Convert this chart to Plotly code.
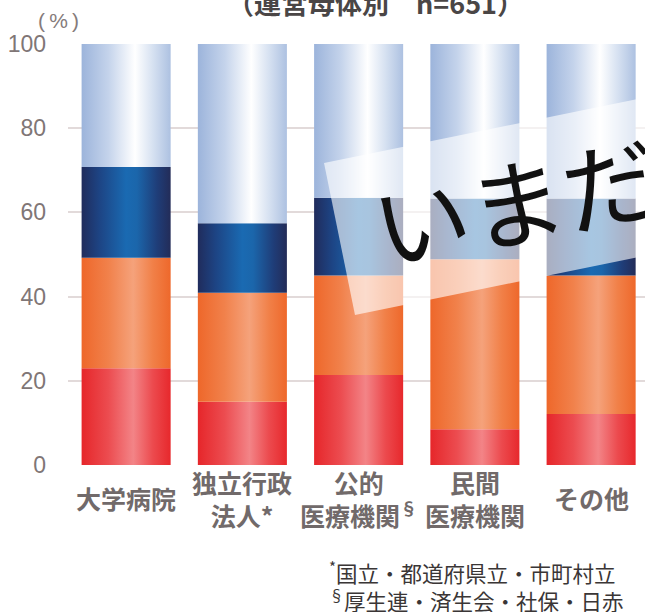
import plotly.graph_objects as go

# ---------------- data ----------------
categories = ["大学病院", "独立行政<br>法人*", "公的<br>医療機関<sup>§</sup>", "民間<br>医療機関", "その他"]
seg_red = [23.0, 15.0, 21.4, 8.5, 12.1]
seg_orange = [26.2, 25.9, 23.6, 40.4, 32.9]
seg_navy = [21.6, 16.5, 18.5, 14.4, 18.3]
seg_light = [29.2, 42.6, 36.5, 36.7, 36.7]
y_ticks = [0, 20, 40, 60, 80, 100]
title_text = "（運営母体別　n=651）"
unit_text = "(\u2009%\u2009)"
footnote_text = "<sup>*</sup>国立・都道府県立・市町村立<br><sup>§</sup>厚生連・済生会・社保・日赤"
overlay_text = "いまだ"

# ---------------- style ----------------
W, H = 645, 612
L, R, T, B = 68, 0, 44, 147
PW, PH = W - L - R, H - T - B
HALF = 0.383

scales = {
    "red": [[0, "#e6262a"], [0.3, "#ec4c50"], [0.58, "#f38487"], [0.8, "#ec4a4e"], [1, "#e7282c"]],
    "orange": [[0, "#ee672a"], [0.3, "#f1814b"], [0.58, "#f5a27b"], [0.8, "#f18048"], [1, "#ee682b"]],
    "navy": [[0, "#202c5c"], [0.2, "#1d4484"], [0.5, "#1a6ab2"], [0.62, "#1b66ab"], [0.85, "#1f3d78"], [1, "#232c58"]],
    "light": [[0, "#9cb4db"], [0.3, "#c4d3eb"], [0.6, "#ffffff"], [0.8, "#d6e1f1"], [1, "#adc1e1"]],
}
series = [("red", seg_red), ("orange", seg_orange), ("navy", seg_navy), ("light", seg_light)]


def px2x(px):
    return (px - L) / PW


def py2y(py):
    return (H - B - py) / PH


fig = go.Figure()
base = [0.0] * len(categories)
for key, vals in series:
    for i, v in enumerate(vals):
        b0, b1 = base[i], base[i] + v
        fig.add_trace(go.Scatter(
            x=[i - HALF, i + HALF, i + HALF, i - HALF, i - HALF],
            y=[b0, b0, b1, b1, b0],
            mode="lines", fill="toself",
            line=dict(width=0, color="rgba(0,0,0,0)"),
            fillgradient=dict(type="horizontal", colorscale=scales[key]),
            hoverinfo="skip", showlegend=False,
        ))
        base[i] = b1

annotations = []
for i, c in enumerate(categories):
    annotations.append(dict(
        x=i, xref="x", y=py2y(498), yref="paper", text=c, showarrow=False,
        xanchor="center", yanchor="middle", align="center",
        font=dict(family="Noto Sans CJK JP", size=25, color="#716a6a", weight="bold"),
    ))

annotations.append(dict(
    x=px2x(375), xref="paper", y=py2y(3), yref="paper", text=title_text, showarrow=False,
    xanchor="center", yanchor="middle",
    font=dict(family="Noto Sans CJK JP", size=27, color="#4a4646", weight="bold"),
))
annotations.append(dict(
    x=px2x(58), xref="paper", y=py2y(20), yref="paper", text=unit_text, showarrow=False,
    xanchor="center", yanchor="middle",
    font=dict(family="Liberation Sans", size=21, color="#857b7b"),
))
annotations.append(dict(
    x=px2x(327), xref="paper", y=py2y(586), yref="paper", text=footnote_text, showarrow=False,
    xanchor="left", yanchor="middle", align="left",
    font=dict(family="Noto Sans CJK JP", size=21.5, color="#3a3636"),
))
annotations.append(dict(
    x=px2x(515), xref="paper", y=py2y(198), yref="paper", text=overlay_text, showarrow=False,
    xanchor="center", yanchor="middle", textangle=-11,
    font=dict(family="Noto Sans CJK JP", size=96, color="#111111"),
))

# translucent tilted paper overlay
corners = [(324, 163), (765, 73), (796, 225), (355, 315)]
path = "M " + " L ".join(f"{px2x(a):.4f},{py2y(b):.4f}" for a, b in corners) + " Z"
shapes = [dict(type="path", xref="paper", yref="paper", path=path,
               fillcolor="rgba(255,255,255,0.62)", line=dict(width=0), layer="above")]

fig.update_layout(
    width=W, height=H,
    margin=dict(l=L, r=R, t=T, b=B, pad=0),
    paper_bgcolor="white", plot_bgcolor="white",
    showlegend=False,
    xaxis=dict(range=[-0.5, -0.5 + PW / 116.25], showticklabels=False, showgrid=False,
               zeroline=False, showline=False, fixedrange=True),
    yaxis=dict(range=[0, 100], tickvals=y_ticks, showgrid=True, gridcolor="#e2dada", gridwidth=1.5,
               zeroline=False, showline=False, ticks="", ticklabelstandoff=21,
               tickfont=dict(family="Liberation Sans", size=23, color="#807676"), fixedrange=True),
    annotations=annotations,
    shapes=shapes,
)

fig.write_html("out.html")
